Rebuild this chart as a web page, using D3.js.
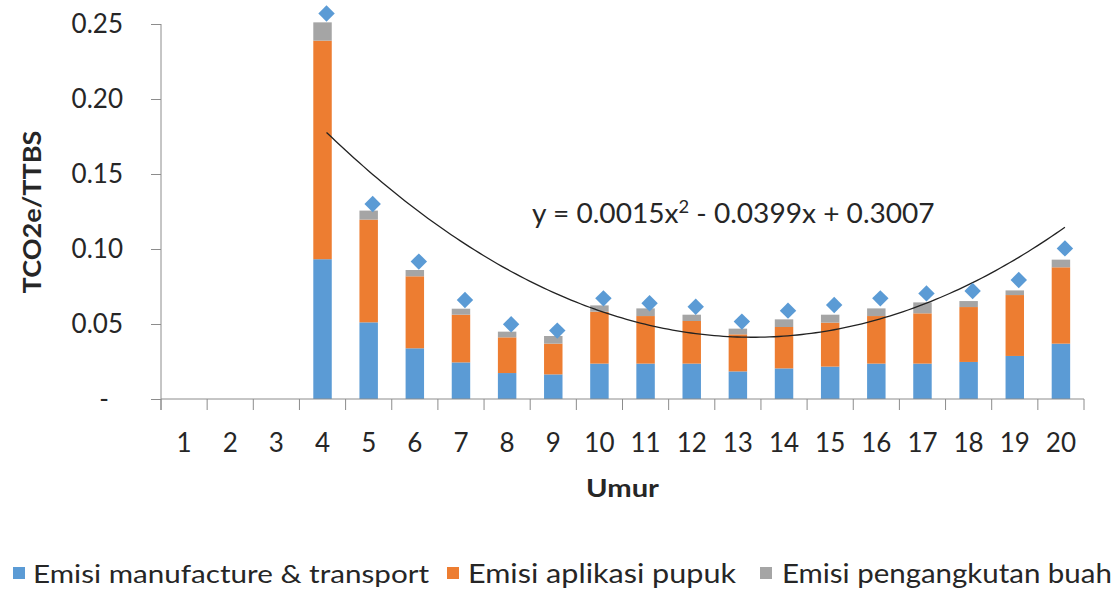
<!DOCTYPE html>
<html>
<head>
<meta charset="utf-8">
<script src="https://cdn.jsdelivr.net/npm/d3@7"></script>
<style>
  html, body { margin: 0; padding: 0; background: #fff; }
  svg { display: block; }
  text { font-family: Lato, "Open Sans", sans-serif; fill: #262626; }
</style>
</head>
<body>
<svg id="chart" width="1119" height="592"></svg>
<script>
// ---------- data ----------
const categories = [1,2,3,4,5,6,7,8,9,10,11,12,13,14,15,16,17,18,19,20];
const manufTransport = [0,0,0,0.0932,0.0511,0.0338,0.0244,0.0173,0.0164,0.0236,0.0236,0.0236,0.0184,0.0204,0.0216,0.0236,0.0236,0.0247,0.0287,0.0369];
const aplikasiPupuk  = [0,0,0,0.1457,0.0685,0.0480,0.0318,0.0238,0.0205,0.0346,0.0317,0.0284,0.0247,0.0276,0.0293,0.0317,0.0335,0.0366,0.0406,0.0509];
const pengangkutan   = [0,0,0,0.0122,0.0060,0.0042,0.0040,0.0038,0.0051,0.0042,0.0051,0.0042,0.0038,0.0051,0.0053,0.0051,0.0073,0.0040,0.0031,0.0051];
const pointX = [4,5,6,7,8,9,10,11,12,13,14,15,16,17,18,19,20];
const pointY = [0.257,0.130,0.0916,0.066,0.0498,0.0456,0.0671,0.0638,0.0615,0.0516,0.0589,0.0627,0.0671,0.0704,0.072,0.0793,0.1004];
const yTicks = [0,0.05,0.10,0.15,0.20,0.25];
const seriesNames = ["Emisi manufacture & transport","Emisi aplikasi pupuk","Emisi pengangkutan buah"];
const colors = ["#5B9BD5","#ED7D31","#A5A5A5"];
const equationParts = ["y = 0.0015x", "2", " - 0.0399x + 0.3007"];
const xTitle = "Umur";
const yTitle = "TCO2e/TTBS";

// ---------- layout ----------
const L = 161, R = 1084, T = 24, B = 399;
const axisColor = "#8c8c8c";
const svg = d3.select("#chart");

const x = d3.scaleBand().domain(categories).range([L, R]).paddingInner(0.6).paddingOuter(0.3);
const xl = d3.scaleLinear().domain([0.5, 20.5]).range([L, R]);
const y = d3.scaleLinear().domain([0, 0.25]).range([B, T]);
const ptShift = 4;

function fitWidth(sel, target) {
  const w = sel.node().getBBox().width;
  const k = target / w;
  const t = sel.attr("transform") || "";
  sel.attr("transform", t + ` scale(${k},1)`);
}

// ---------- stacked bars ----------
const rows = categories.map((c, i) => ({cat: c, a: manufTransport[i], b: aplikasiPupuk[i], c: pengangkutan[i]}));
const stack = d3.stack().keys(["a","b","c"])(rows);
svg.append("g").selectAll("g").data(stack).join("g")
  .attr("fill", (d, i) => colors[i])
  .selectAll("rect").data(d => d).join("rect")
  .attr("x", d => x(d.data.cat))
  .attr("width", x.bandwidth())
  .attr("y", d => y(d[1]))
  .attr("height", d => Math.max(0, y(d[0]) - y(d[1])));

// ---------- axes ----------
const yAxis = svg.append("g").attr("transform", `translate(${L},0)`)
  .call(d3.axisLeft(y).tickValues(yTicks).tickSize(10).tickPadding(28)
    .tickFormat(d => d === 0 ? "-" : d3.format(".2f")(d)));
yAxis.select(".domain").attr("stroke", axisColor).attr("d", `M0,${T}V${B + 11}`);
yAxis.selectAll(".tick line").attr("stroke", axisColor);
yAxis.selectAll(".tick text").attr("font-family", "Lato, sans-serif").attr("font-size", 26)
  .attr("fill", "#262626").attr("dy", "0.34em")
  .attr("dx", d => d === 0 ? -14 : 0);

const xAxisG = svg.append("g").attr("transform", `translate(0,${B})`);
xAxisG.append("line").attr("x1", L).attr("x2", R).attr("y1", 0).attr("y2", 0).attr("stroke", axisColor);
xAxisG.selectAll("line.tk").data(d3.range(categories.length + 1)).join("line").attr("class", "tk")
  .attr("x1", i => xl(i + 0.5)).attr("x2", i => xl(i + 0.5))
  .attr("y1", 0).attr("y2", 11).attr("stroke", axisColor);
xAxisG.selectAll("text").data(categories).join("text")
  .attr("x", d => x(d) + x.bandwidth() / 2).attr("y", 53)
  .attr("text-anchor", "middle").attr("font-size", 26).text(d => d);

// ---------- trend line (least-squares quadratic on the points) ----------
function quadFit(xs, ys) {
  let S = Array(5).fill(0), Ty = [0,0,0];
  xs.forEach((xv, i) => {
    for (let p = 0; p < 5; p++) S[p] += Math.pow(xv, p);
    for (let p = 0; p < 3; p++) Ty[p] += Math.pow(xv, p) * ys[i];
  });
  const M = [[S[0],S[1],S[2],Ty[0]],[S[1],S[2],S[3],Ty[1]],[S[2],S[3],S[4],Ty[2]]];
  for (let c = 0; c < 3; c++) {
    for (let r = c + 1; r < 3; r++) {
      const f = M[r][c] / M[c][c];
      for (let k = c; k < 4; k++) M[r][k] -= f * M[c][k];
    }
  }
  const sol = [0,0,0];
  for (let r = 2; r >= 0; r--) {
    let s = M[r][3];
    for (let k = r + 1; k < 3; k++) s -= M[r][k] * sol[k];
    sol[r] = s / M[r][r];
  }
  return sol; // c0, c1, c2
}
const coef = quadFit(pointX, pointY);
const trendXs = d3.range(pointX[0], pointX[pointX.length - 1] + 0.001, 0.1);
svg.append("path")
  .attr("d", d3.line().x(d => xl(d) + ptShift).y(d => y(coef[0] + coef[1] * d + coef[2] * d * d))(trendXs))
  .attr("fill", "none").attr("stroke", "#222").attr("stroke-width", 1.3);

// ---------- diamonds ----------
svg.append("g").selectAll("path").data(pointX).join("path")
  .attr("transform", (d, i) => `translate(${xl(d) + ptShift},${y(pointY[i])}) rotate(45)`)
  .attr("d", d3.symbol(d3.symbolSquare, 135))
  .attr("fill", colors[0]);

// ---------- equation ----------
const eq = svg.append("text").attr("transform", `translate(532,223)`).attr("font-size", 26);
eq.append("tspan").text(equationParts[0]);
eq.append("tspan").attr("font-size", 17).attr("dy", -10).text(equationParts[1]);
eq.append("tspan").attr("dy", 10).text(equationParts[2]);
fitWidth(eq, 403);

// ---------- titles ----------
const yt = svg.append("text").attr("transform", `translate(41,212) rotate(-90)`)
  .attr("text-anchor", "middle").attr("font-size", 24).attr("font-weight", "bold").attr("fill", "#000").text(yTitle);
fitWidth(yt, 163);
const xt = svg.append("text").attr("transform", `translate(${(L + R) / 2},497)`)
  .attr("text-anchor", "middle").attr("font-size", 24).attr("font-weight", "bold").attr("fill", "#000").text(xTitle);
fitWidth(xt, 73);

// ---------- legend ----------
const legendPos = [{sq: 13, tx: 33, w: 397}, {sq: 447, tx: 468, w: 269}, {sq: 760, tx: 782, w: 330}];
const lg = svg.append("g");
seriesNames.forEach((name, i) => {
  lg.append("rect").attr("x", legendPos[i].sq).attr("y", 567).attr("width", 12).attr("height", 12).attr("fill", colors[i]);
  const t = lg.append("text").attr("transform", `translate(${legendPos[i].tx},583)`).attr("font-size", 26).text(name);
  fitWidth(t, legendPos[i].w);
});
</script>
</body>
</html>
